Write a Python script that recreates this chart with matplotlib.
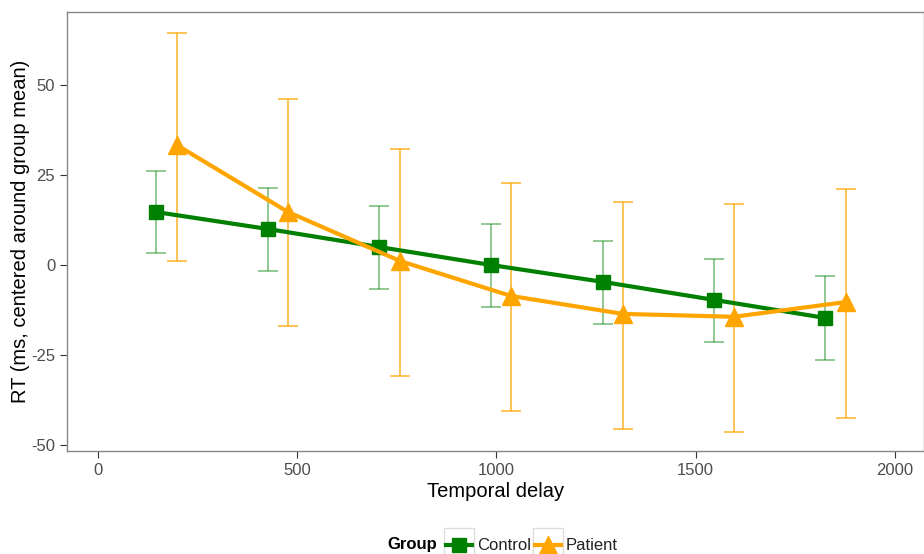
import matplotlib
matplotlib.use("Agg")
import matplotlib.pyplot as plt
from matplotlib.lines import Line2D
from matplotlib.patches import Rectangle

delay_control = [146, 426, 705, 986, 1267, 1546, 1824]
delay_patient = [198, 477, 758, 1036, 1317, 1596, 1877]
control_mean = [14.7, 10.0, 5.0, 0.0, -4.7, -9.7, -14.7]
control_lo = [3.3, -1.7, -6.7, -11.7, -16.4, -21.4, -26.4]
control_hi = [26.1, 21.4, 16.4, 11.4, 6.7, 1.7, -3.0]
patient_mean = [33.3, 14.7, 1.1, -8.6, -13.6, -14.4, -10.3]
patient_lo = [1.1, -16.9, -30.8, -40.5, -45.5, -46.4, -42.5]
patient_hi = [64.4, 46.1, 32.2, 22.8, 17.5, 16.9, 21.1]
x_ticks = [0, 500, 1000, 1500, 2000]
y_ticks = [-50, -25, 0, 25, 50]

plt.rcParams['font.family'] = ['Liberation Sans', 'DejaVu Sans']
plt.rcParams['axes.unicode_minus'] = False
W, H = 924, 554
fig = plt.figure(figsize=(W/100, H/100), dpi=100)
ax = fig.add_axes([67/W, 1-451/H, 1-67/W, (451-12)/H])

green = '#008000'
orange = '#FFA500'

def errs(x, m, lo, hi, color, alpha):
    yerr = [[mm - l for mm, l in zip(m, lo)], [h - mm for mm, h in zip(m, hi)]]
    ax.errorbar(x, m, yerr=yerr, fmt='none', ecolor=color, elinewidth=1.1,
                capsize=7, capthick=1.1, alpha=alpha, zorder=1)

errs(delay_control, control_mean, control_lo, control_hi, green, 0.55)
errs(delay_patient, patient_mean, patient_lo, patient_hi, orange, 0.85)

ax.plot(delay_control, control_mean, color=green, lw=3, marker='s', ms=10.5, zorder=3)
ax.plot(delay_patient, patient_mean, color=orange, lw=3, marker='^', ms=13, zorder=3)

ax.set_xlim(-78, 2073)
ax.set_ylim(-51.7, 70.3)
ax.set_xticks(x_ticks)
ax.set_yticks(y_ticks)
ax.tick_params(axis='both', labelsize=12, colors='#333333', length=5, width=0.8, labelcolor='#4D4D4D')
for s in ax.spines.values():
    s.set_color('#888888')
    s.set_linewidth(1.0)
ax.set_xlabel('Temporal delay', fontsize=14.5, labelpad=3)
ax.set_ylabel('RT (ms, centered around group mean)', fontsize=14.5, labelpad=1)

# legend drawn at the bottom
ly = 1 - 545/H
fig.text(387/W, ly, 'Group', fontsize=12, fontweight='bold', va='center', ha='left')
keys = [(444, 'Control', green, 's', 10.5), (533, 'Patient', orange, '^', 13)]
for kx, lab, col, mk, ms in keys:
    fig.patches.append(Rectangle((kx/W, 1-556/H), 30/W, 28/H, transform=fig.transFigure,
                                 facecolor='white', edgecolor='#dddddd', lw=1, figure=fig))
    fig.lines.append(Line2D([(kx+2)/W, (kx+28)/W], [ly, ly], transform=fig.transFigure,
                            color=col, lw=3, figure=fig))
    fig.lines.append(Line2D([(kx+15)/W], [ly], transform=fig.transFigure, color=col,
                            marker=mk, ms=ms, figure=fig))
    fig.text((kx+33)/W, ly, lab, fontsize=12, va='center', ha='left', color='#222222')

fig.savefig('out.png', dpi=100)
